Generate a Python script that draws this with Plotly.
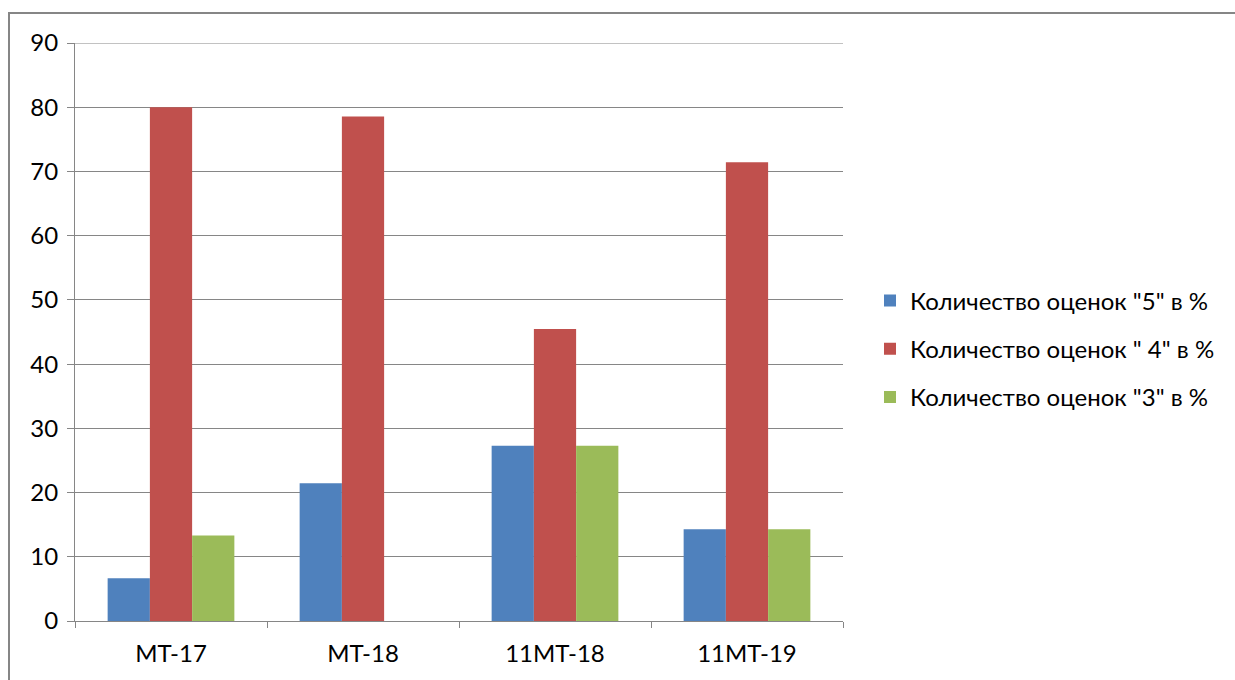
import plotly.graph_objects as go

categories = ["МТ-17", "МТ-18", "11МТ-18", "11МТ-19"]
series_names = ['Количество оценок "5" в %', 'Количество оценок " 4" в %', 'Количество оценок "3" в %']
grade5 = [6.67, 21.43, 27.27, 14.29]
grade4 = [80.0, 78.57, 45.45, 71.43]
grade3 = [13.33, 0.0, 27.27, 14.29]
colors = ["#4F81BD", "#C0504D", "#9BBB59"]
y_ticks = [0, 10, 20, 30, 40, 50, 60, 70, 80, 90]

FONT = "Lato"
FS = 24

fig = go.Figure()
for i, (name, vals) in enumerate(zip(series_names, [grade5, grade4, grade3])):
    fig.add_trace(go.Bar(
        x=categories, y=vals, name=name, marker_color=colors[i],
        marker_line_width=0, legendgroup=f"g{i}",
    ))

L, R, T, B = 75, 392, 43, 59
W, H = 1235, 680
pw, ph = W - L - R, H - T - B

fig.update_layout(
    width=W, height=H,
    margin=dict(l=L, r=R, t=T, b=B),
    paper_bgcolor="white", plot_bgcolor="white",
    barmode="group", bargap=0.34, bargroupgap=0,
    font=dict(family=FONT, size=FS, color="#000000"),
    showlegend=True,
    legend=dict(
        x=(870 - L) / pw, xanchor="left",
        y=(621 - 349) / ph, yanchor="middle",
        font=dict(family=FONT, size=FS, color="#000000"),
        tracegroupgap=14, itemwidth=30,
        bgcolor="rgba(0,0,0,0)",
    ),
    xaxis=dict(
        type="category", showgrid=False, showline=True, linecolor="#868686", linewidth=1,
        ticks="outside", tickson="boundaries", ticklen=6, tickcolor="#868686",
        tickfont=dict(family=FONT, size=FS), zeroline=False, ticklabelstandoff=11,
    ),
    yaxis=dict(
        range=[0, 90], tickvals=y_ticks, showgrid=True, gridcolor="#868686", gridwidth=1,
        showline=True, linecolor="#868686", linewidth=1, ticks="outside", ticklen=7,
        tickcolor="#868686", tickfont=dict(family=FONT, size=FS), zeroline=False,
        ticklabelstandoff=4,
    ),
)

# top gridline at 90
fig.add_shape(type="line", xref="paper", yref="y", x0=0, x1=1, y0=90, y1=90,
              line=dict(color="#868686", width=1))

# outer chart border (partially visible)
x0 = (9 - L) / pw
y0 = 1 + (T - 13) / ph
x1 = (W + 5 - L) / pw
y1 = -(B + 5) / ph
fig.add_shape(type="path", xref="paper", yref="paper",
              path=f"M {x1} {y0} L {x0} {y0} L {x0} {y1}",
              line=dict(color="#868686", width=2))

fig.write_html("out.html")
